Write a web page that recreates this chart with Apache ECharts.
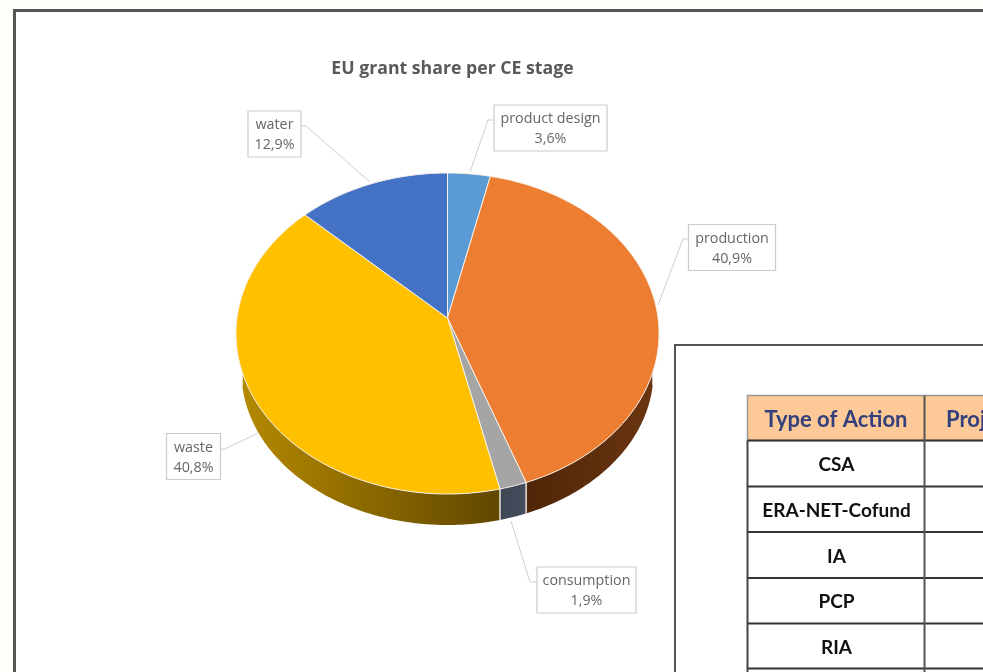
<!DOCTYPE html>
<html><head><meta charset="utf-8">
<style>html,body{margin:0;padding:0;background:#fdfef9;overflow:hidden}#c{width:983px;height:672px}</style>
<script src="https://cdn.jsdelivr.net/npm/echarts@6/dist/echarts.min.js"></script>
</head><body><div id="c"></div>
<script>
const stages = ['product design','production','consumption','waste','water'];
const shares = [3.6,40.9,1.9,40.8,12.9];
const shareText = ['3,6%','40,9%','1,9%','40,8%','12,9%'];
const topColors = ['#5b9bd5','#ed7d31','#a5a5a5','#ffc000','#4472c4'];
const sideColors = [['#3a6a94','#3a6a94'],['#4f2608','#6a3510'],['#3f4654','#454d5c'],['#b48900','#614700'],['#2b4a80','#2b4a80']];
const actionTypes = ['CSA','ERA-NET-Cofund','IA','PCP','RIA'];
const tableHeaders = ['Type of Action','Projects'];

const pie = {ax:447.5, ay:318, cx:447.5, cy:333.5, rx:211.5, ry:160.5, k:0.76, baseY:372, baseRx:206, baseRy:153};
const boxes = [
 {x:494,y:105,w:113,h:46, line:[[494,120],[488,120],[470,172]]},
 {x:688.5,y:224.5,w:87,h:46, line:[[688,239],[683,239],[658,305]]},
 {x:537,y:567,w:99,h:46, line:[[537,582],[530,582],[511,521]]},
 {x:166.5,y:433.5,w:54,h:46, line:[[221,449],[225,449],[258,433]]},
 {x:248,y:111,w:53,h:46, line:[[301,126],[306,126],[370,182]]}
];
const labelFont = 'Open Sans';
const total = shares.reduce((a,b)=>a+b,0);

function rim(theta){
  const dx=Math.sin(theta), dy=-pie.k*Math.cos(theta);
  const ox=(pie.ax-pie.cx)/pie.rx, oy=(pie.ay-pie.cy)/pie.ry;
  const ux=dx/pie.rx, uy=dy/pie.ry;
  const a=ux*ux+uy*uy, b=2*(ox*ux+oy*uy), c=ox*ox+oy*oy-1;
  const t=(-b+Math.sqrt(b*b-4*a*c))/(2*a);
  return [pie.ax+t*dx, pie.ay+t*dy];
}
function drop(p){
  const u=Math.min(1,Math.abs(p[0]-pie.cx)/pie.baseRx);
  return [p[0], pie.baseY+pie.baseRy*Math.sqrt(1-u*u)];
}

function renderSlice(params, api){
  const i=params.dataIndex;
  let before=0; for(let j=0;j<i;j++) before+=shares[j];
  const a0=before/total*2*Math.PI, a1=(before+shares[i])/total*2*Math.PI;
  const n=Math.max(6,Math.ceil(shares[i]*6));
  const pts=[];
  for(let s=0;s<=n;s++) pts.push(rim(a0+(a1-a0)*s/n));
  const kids=[];
  const low=pts.filter(p=>p[1]>=pie.baseY);
  if(low.length>1){
    const wall=low.concat(low.slice().reverse().map(drop));
    kids.push({type:'polygon',shape:{points:wall},style:{fill:new echarts.graphic.LinearGradient(0,0,1,0,[{offset:0,color:sideColors[i][0]},{offset:1,color:sideColors[i][1]}])},z2:1});
    [low[0],low[low.length-1]].forEach(p=>{
      const d=drop(p);
      kids.push({type:'line',shape:{x1:p[0],y1:p[1],x2:d[0],y2:d[1]},style:{stroke:'#e8e6df',lineWidth:1},z2:2});
    });
  }
  kids.push({type:'polygon',shape:{points:[[pie.ax,pie.ay]].concat(pts)},style:{fill:topColors[i],stroke:'#f5f1e8',lineWidth:1,lineJoin:'round'},z2:3});
  const b=boxes[i];
  kids.push({type:'polyline',shape:{points:b.line},style:{fill:null,stroke:'#cfcfcf',lineWidth:1},z2:4});
  kids.push({type:'rect',shape:{x:b.x,y:b.y,width:b.w,height:b.h},style:{fill:'#ffffff',stroke:'#cccccc',lineWidth:1.2},z2:5});
  kids.push({type:'text',x:b.x+b.w/2,y:b.y+b.h/2+1,style:{text:stages[i]+'\n'+shareText[i],align:'center',verticalAlign:'middle',fill:'#666666',font:'14.3px "'+labelFont+'"',lineHeight:20},z2:6});
  return {type:'group',children:kids};
}

const g=[];
g.push({type:'rect',z:0,shape:{x:14.5,y:10.5,width:1100,height:800},style:{fill:'#ffffff',stroke:'#555555',lineWidth:3}});
g.push({type:'text',z:1,x:452.5,y:69,style:{text:'EU grant share per CE stage',align:'center',verticalAlign:'middle',fill:'#595959',font:'bold 17.7px "Open Sans"'}});
g.push({type:'rect',z:20,shape:{x:675,y:345,width:500,height:500},style:{fill:'#ffffff',stroke:'#555555',lineWidth:2}});
const rowY=[395.5,440.5,486.5,532,578,623.5,668.5];
const colX=[747.5,924.5,1200];
g.push({type:'rect',z:21,shape:{x:colX[0],y:rowY[0],width:400,height:rowY[1]-rowY[0]},style:{fill:'#fdc997',stroke:'#999999',lineWidth:1.5}});
for(let r=1;r<rowY.length;r++) g.push({type:'line',z:22,shape:{x1:colX[0],y1:rowY[r],x2:983,y2:rowY[r]},style:{stroke:'#333333',lineWidth:2}});
g.push({type:'line',z:22,shape:{x1:colX[0],y1:rowY[1],x2:colX[0],y2:672},style:{stroke:'#444444',lineWidth:2}});
g.push({type:'line',z:22,shape:{x1:colX[1],y1:rowY[0],x2:colX[1],y2:672},style:{stroke:'#555555',lineWidth:2}});
g.push({type:'text',z:23,x:836,y:419.5,style:{text:tableHeaders[0],align:'center',verticalAlign:'middle',fill:'#34407c',font:'bold 22px Lato'}});
g.push({type:'text',z:23,x:946,y:419.5,style:{text:tableHeaders[1],align:'left',verticalAlign:'middle',fill:'#34407c',font:'bold 22px Lato'}});
actionTypes.forEach((t,i)=>g.push({type:'text',z:23,x:836.5,y:(rowY[i+1]+rowY[i+2])/2+1.5,style:{text:t,align:'center',verticalAlign:'middle',fill:'#111111',font:'bold 19px Lato'}}));

const chart=echarts.init(document.getElementById('c'),null,{renderer:'canvas'});
chart.setOption({
  animation:false,
  backgroundColor:'#fdfef9',
  graphic:{elements:g},
  series:[{type:'custom',coordinateSystem:'none',z:5,silent:true,renderItem:renderSlice,
    data:stages.map((n,i)=>({name:n,value:shares[i]}))}]
});
</script></body></html>
